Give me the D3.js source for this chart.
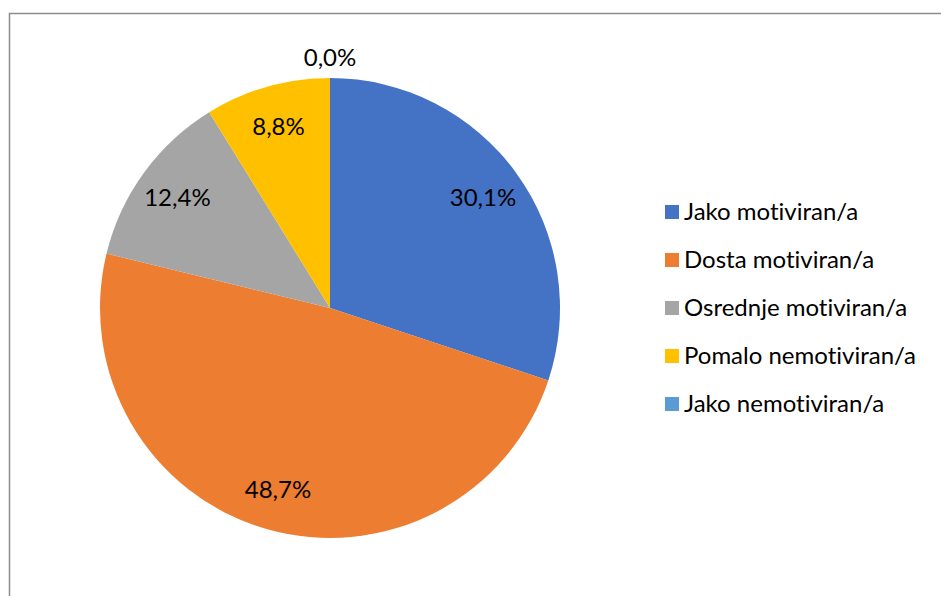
<!DOCTYPE html>
<html>
<head>
<meta charset="utf-8">
<script src="https://cdn.jsdelivr.net/npm/d3@7"></script>
<style>
  body { margin: 0; background: #fff; }
  svg { display: block; font-family: Lato, "Liberation Sans", sans-serif; font-variant-ligatures: none; }
</style>
</head>
<body>
<script>
// motivation survey pie
var categories = ['Jako motiviran/a', 'Dosta motiviran/a', 'Osrednje motiviran/a', 'Pomalo nemotiviran/a', 'Jako nemotiviran/a'];
var values = [30.1, 48.7, 12.4, 8.8, 0.0];
var colors = ['#4472C4', '#ED7D31', '#A5A5A5', '#FFC000', '#5B9BD5'];

var w = 941, h = 596;
var svg = d3.select('body').append('svg').attr('width', w).attr('height', h);

// chart frame (runs off the right and bottom of the picture)
svg.append('rect')
  .attr('x', 9.5).attr('y', 13.5)
  .attr('width', 1000).attr('height', 1000)
  .attr('fill', 'none')
  .attr('stroke', '#8c8c8c')
  .attr('stroke-width', 1.5);

var cx = 330, cy = 308, r = 230;

var pie = d3.pie().sort(null).value(function(d){ return d; });
var arcs = pie(values);
var arc = d3.arc().innerRadius(0).outerRadius(r);
var labelArc = d3.arc().innerRadius(r * 0.82).outerRadius(r * 0.82);
var outerArc = d3.arc().innerRadius(r + 20).outerRadius(r + 20);

var g = svg.append('g').attr('transform', 'translate(' + cx + ',' + cy + ')');

g.selectAll('path')
  .data(arcs)
  .enter()
  .append('path')
  .attr('d', arc)
  .attr('fill', function(d, i){ return colors[i]; });

var fmt = function(v){ return v.toFixed(1).replace('.', ',') + '%'; };

g.selectAll('text.lbl')
  .data(arcs)
  .enter()
  .append('text')
  .attr('class', 'lbl')
  .attr('transform', function(d){
    var p = d.value > 0 ? labelArc.centroid(d) : outerArc.centroid(d);
    return 'translate(' + p[0] + ',' + p[1] + ')';
  })
  .attr('text-anchor', 'middle')
  .attr('dy', '0.35em')
  .attr('font-size', 24)
  .attr('fill', '#000')
  .text(function(d){ return fmt(d.value); });

// legend
var ly = d3.scalePoint().domain(categories).range([212, 404]);
var legend = svg.append('g');
var items = legend.selectAll('g')
  .data(categories)
  .enter()
  .append('g')
  .attr('transform', function(d){ return 'translate(665,' + ly(d) + ')'; });

items.append('rect')
  .attr('x', 0).attr('y', -7)
  .attr('width', 14).attr('height', 14)
  .attr('fill', function(d, i){ return colors[i]; });

items.append('text')
  .attr('x', 19)
  .attr('dy', '0.35em')
  .attr('font-size', 24)
  .attr('fill', '#000')
  .text(function(d){ return d; });
</script>
</body>
</html>
